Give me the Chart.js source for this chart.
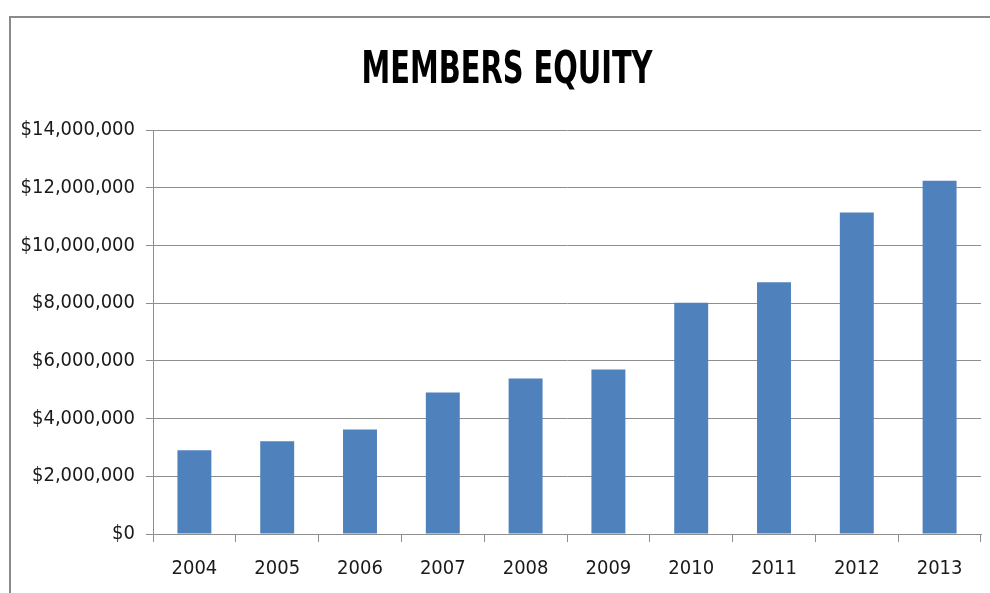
<!DOCTYPE html>
<html><head><meta charset="utf-8">
<script src="https://cdn.jsdelivr.net/npm/chart.js@4/dist/chart.umd.min.js"></script>
<style>html,body{margin:0;padding:0;background:#fff;overflow:hidden}#wrap{width:990px;height:593px;position:relative}</style>
</head><body><div id="wrap"><canvas id="c" width="990" height="593"></canvas></div>
<script>
const chartTitle = 'MEMBERS EQUITY';
const years = ['2004','2005','2006','2007','2008','2009','2010','2011','2012','2013'];
const equity = [2900000,3210000,3620000,4900000,5390000,5700000,8010000,8720000,11140000,12240000];
const yMin = 0, yMax = 14000000, yStep = 2000000;

const FONT = "'Liberation Sans Narrow','DejaVu Sans Condensed','Liberation Sans',sans-serif";
const GRID = '#8e8e8e';

const framePlugin = {
  id: 'frame',
  beforeDraw(chart) {
    const ctx = chart.ctx;
    ctx.save();
    ctx.fillStyle = '#fff';
    ctx.fillRect(0, 0, chart.width, chart.height);
    ctx.strokeStyle = '#8a8a8a';
    ctx.lineWidth = 2;
    ctx.beginPath();
    ctx.moveTo(10, chart.height + 2);
    ctx.lineTo(10, 17);
    ctx.lineTo(chart.width + 2, 17);
    ctx.stroke();
    ctx.restore();
  }
};
const titlePlugin = {
  id: 'xlTitle',
  afterDraw(chart) {
    const ctx = chart.ctx;
    ctx.save();
    ctx.font = "bold 44px " + FONT;
    ctx.fillStyle = '#000';
    ctx.textAlign = 'center';
    ctx.textBaseline = 'alphabetic';
    const w = ctx.measureText(chartTitle).width;
    const sx = Math.min(1, 291 / w);
    ctx.translate(507, 83);
    ctx.scale(sx, 1);
    ctx.fillText(chartTitle, 0, 0);
    ctx.restore();
  }
};

new Chart(document.getElementById('c'), {
  type: 'bar',
  data: {
    labels: years,
    datasets: [{
      data: equity,
      backgroundColor: '#4F81BD',
      borderWidth: 0,
      barPercentage: 0.41,
      categoryPercentage: 1.0
    }]
  },
  options: {
    responsive: false,
    animation: false,
    devicePixelRatio: 1,
    layout: { padding: { top: 130, right: 9, bottom: 0, left: 0 } },
    plugins: { legend: { display: false }, title: { display: false }, tooltip: { enabled: false } },
    scales: {
      x: {
        grid: { display: true, drawOnChartArea: false, drawTicks: true, tickLength: 8, offset: true, color: GRID, lineWidth: 1 },
        border: { display: true, color: GRID, width: 1 },
        ticks: { color: '#1a1a1a', font: { family: FONT, size: 20 }, padding: 15, maxRotation: 0 },
        afterFit(s) { s.height = 59; }
      },
      y: {
        min: yMin, max: yMax,
        grid: { color: GRID, lineWidth: 1, drawTicks: true, tickLength: 7 },
        border: { display: true, color: GRID, width: 1 },
        ticks: {
          stepSize: yStep,
          color: '#1a1a1a',
          font: { family: FONT, size: 20 },
          padding: 11,
          callback: v => '$' + Number(v).toLocaleString('en-US')
        },
        afterFit(s) { s.width = 153; }
      }
    }
  },
  plugins: [framePlugin, titlePlugin]
});
</script></body></html>
